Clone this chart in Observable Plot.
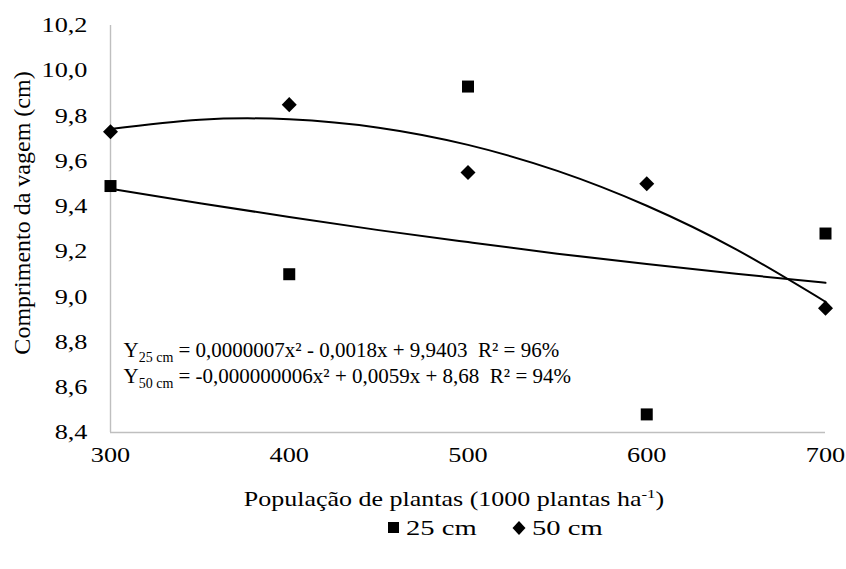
<!DOCTYPE html>
<html>
<head>
<meta charset="utf-8">
<script src="https://cdn.jsdelivr.net/npm/d3@7"></script>
<script src="https://cdn.jsdelivr.net/npm/@observablehq/plot@0.6"></script>
<style>
  html, body { margin: 0; padding: 0; background: #fff; }
  #chart { width: 846px; }
  #chart svg text { font-family: "Liberation Serif", serif; }
  #legend { position: relative; width: 846px; height: 57px; font-family: "Liberation Serif", serif; font-size: 22px; color: #000; }
  #legend .t { position: absolute; top: 5px; line-height: 22px; display: inline-block; transform: scaleX(1.3); transform-origin: left center; white-space: nowrap; }
  #legend svg { position: absolute; }
</style>
</head>
<body>
<div id="chart"></div>
<div id="legend"></div>
<script>
// ---- data ----
const xValues = [300, 400, 500, 600, 700];
const y25 = [9.49, 9.10, 9.93, 8.48, 9.28];
const y50 = [9.73, 9.85, 9.55, 9.50, 8.95];
// trend curves
const trendX = [300, 350, 400, 450, 500, 550, 600, 650, 700];
const trend25 = [9.478, 9.414, 9.353, 9.295, 9.242, 9.191, 9.145, 9.102, 9.062];
const trend50 = [9.742, 9.783, 9.785, 9.748, 9.672, 9.557, 9.403, 9.210, 8.978];
const xTicks = [300, 400, 500, 600, 700];
const yTicks = [8.4, 8.6, 8.8, 9.0, 9.2, 9.4, 9.6, 9.8, 10.0, 10.2];
const seriesNames = ["25 cm", "50 cm"];
const eqSub = ["25 cm", "50 cm"];
const eqRest = [" = 0,0000007x² - 0,0018x + 9,9403  R² = 96%", " = -0,000000006x² + 0,0059x + 8,68  R² = 94%"];
const xLabelMain = "População de plantas (1000 plantas ha";
const xLabelSup = "-1";
const xLabelEnd = ")";
const yLabel = "Comprimento da vagem (cm)";

const pts25 = xValues.map((x, i) => ({x, y: y25[i]}));
const pts50 = xValues.map((x, i) => ({x, y: y50[i]}));
const tr25 = trendX.map((x, i) => ({x, y: trend25[i]}));
const tr50 = trendX.map((x, i) => ({x, y: trend50[i]}));

const FF = "'Liberation Serif', serif";
const svg = Plot.plot({
  width: 846,
  height: 512,
  marginLeft: 110,
  marginRight: 21,
  marginTop: 25,
  marginBottom: 80,
  style: {fontFamily: FF, fontSize: "21px", color: "#000", background: "#fff", overflow: "visible"},
  x: {domain: [xTicks[0], xTicks[xTicks.length - 1]]},
  y: {domain: [yTicks[0], yTicks[yTicks.length - 1]]},
  marks: [
    Plot.ruleX([xTicks[0]], {stroke: "#bfbfbf", strokeWidth: 1.4}),
    Plot.ruleY([yTicks[0]], {stroke: "#bfbfbf", strokeWidth: 1.4}),
    Plot.axisX({ticks: xTicks, tickSize: 0, tickPadding: 15, fontSize: 21, fontFamily: FF, label: null, tickFormat: d => String(d)}),
    Plot.axisY({ticks: yTicks, tickSize: 0, tickPadding: 23, fontSize: 21, fontFamily: FF, label: null, tickFormat: d => d.toFixed(1).replace(".", ",")}),
    Plot.line(tr25, {x: "x", y: "y", curve: "natural", stroke: "#000", strokeWidth: 2}),
    Plot.line(tr50, {x: "x", y: "y", curve: "natural", stroke: "#000", strokeWidth: 2}),
    Plot.dot(pts25, {x: "x", y: "y", symbol: "square", r: 6.77, fill: "#000", stroke: "none"}),
    Plot.dot(pts50, {x: "x", y: "y", symbol: "diamond2", r: 6.77, fill: "#000", stroke: "none"}),
    Plot.text([xLabelMain], {text: d => d, frameAnchor: "bottom", dy: 67, dx: -14, lineAnchor: "middle", fontSize: 20, fontFamily: FF, fill: "#000"}),
    Plot.text([yLabel], {text: d => d, frameAnchor: "left", rotate: -90, dx: -88, dy: -16, lineAnchor: "middle", textAnchor: "middle", fontSize: 24, fontFamily: FF, fill: "#000"}),
    Plot.text([eqSub[0]], {text: d => "Y" + d + eqRest[0], frameAnchor: "bottom-left", dx: 13, dy: -82, textAnchor: "start", lineAnchor: "middle", fontSize: 21, fontFamily: FF, fill: "#000"}),
    Plot.text([eqSub[1]], {text: d => "Y" + d + eqRest[1], frameAnchor: "bottom-left", dx: 13, dy: -56, textAnchor: "start", lineAnchor: "middle", fontSize: 21, fontFamily: FF, fill: "#000"})
  ]
});
document.getElementById("chart").appendChild(svg);

const S = d3.select(svg);
function findText(content) {
  return S.selectAll("text").filter(function() { return this.textContent === content; });
}
function rich(content, parts) {
  const t = findText(content);
  t.text(null).style("white-space", "pre");
  parts.forEach(p => {
    const ts = t.append("tspan").text(p.t);
    if (p.size) ts.attr("font-size", p.size);
    if (p.dy) ts.attr("dy", p.dy);
  });
  return t;
}
rich("Y" + eqSub[0] + eqRest[0], [{t: "Y"}, {t: eqSub[0], size: 14, dy: 5}, {t: eqRest[0], dy: -5}]);
rich("Y" + eqSub[1] + eqRest[1], [{t: "Y"}, {t: eqSub[1], size: 14, dy: 5}, {t: eqRest[1], dy: -5}]);
const xl = rich(xLabelMain, [{t: xLabelMain}, {t: xLabelSup, size: 13, dy: -8}, {t: xLabelEnd, dy: 8}]);

// horizontal stretch of the axis texts, as in the reference
const stretch = function() { return (this.getAttribute("transform") || "") + " scale(1.25,1)"; };
S.selectAll('g[aria-label="x-axis tick label"] text, g[aria-label="y-axis tick label"] text').attr("transform", stretch);
xl.attr("transform", function() { return (this.getAttribute("transform") || "") + " scale(1.3,1)"; });

// legend
const lg = d3.select("#legend");
const legendItems = [
  {name: seriesNames[0], sym: "square", left: 388, textLeft: 406},
  {name: seriesNames[1], sym: "diamond", left: 513, textLeft: 532}
];
legendItems.forEach(it => {
  const s = lg.append("svg").attr("width", 16).attr("height", 16).style("left", (it.left - 2) + "px").style("top", "8px");
  if (it.sym === "square") s.append("rect").attr("x", 2).attr("y", 2).attr("width", 11).attr("height", 11).attr("fill", "#000");
  else s.append("path").attr("d", "M8,1L14.5,8L8,15L1.5,8Z").attr("fill", "#000");
  lg.append("span").attr("class", "t").style("left", it.textLeft + "px").text(it.name);
});
</script>
</body>
</html>
